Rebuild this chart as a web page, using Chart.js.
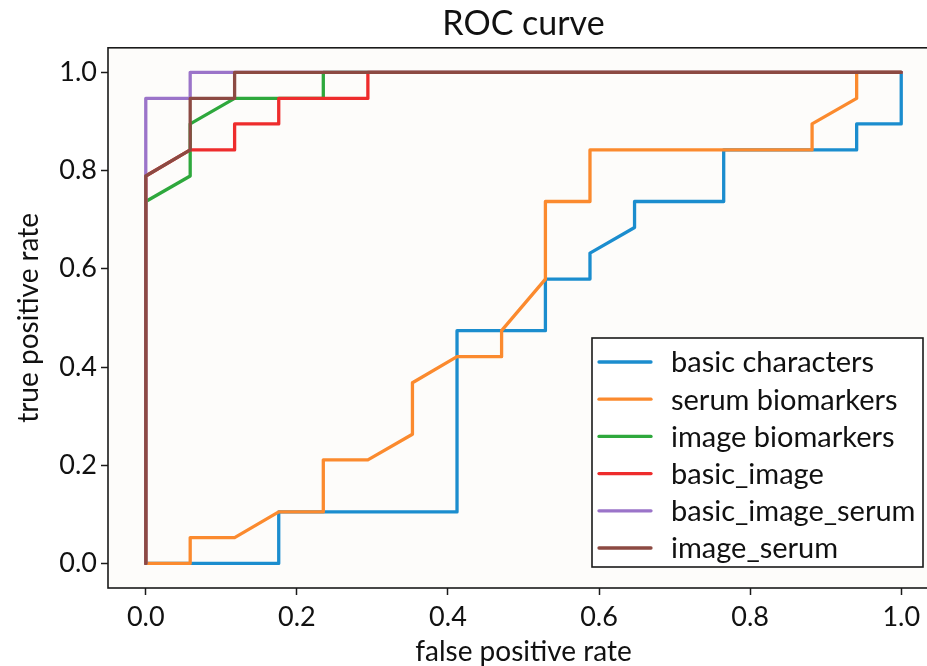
<!DOCTYPE html>
<html>
<head>
<meta charset="utf-8">
<script src="https://cdn.jsdelivr.net/npm/chart.js@4"></script>
<style>
  html, body { margin: 0; padding: 0; background: #ffffff; overflow: hidden; }
  #wrap { width: 927px; height: 666px; overflow: hidden; position: relative; }
  canvas { display: block; }
</style>
</head>
<body>
<div id="wrap"><canvas id="c" width="1047" height="666"></canvas></div>
<script>
// ---- data ----
const seriesNames = ["basic characters", "serum biomarkers", "image biomarkers", "basic_image", "basic_image_serum", "image_serum"];
const seriesColors = ["#1b8dce", "#fb8a2e", "#2ea83c", "#ee2c2c", "#9b74c9", "#8c4a42"];

const basicFpr = [0, 0.176, 0.176, 0.412, 0.412, 0.529, 0.529, 0.588, 0.588, 0.647, 0.647, 0.765, 0.765, 0.941, 0.941, 1.0, 1.0];
const basicTpr = [0, 0, 0.105, 0.105, 0.474, 0.474, 0.579, 0.579, 0.632, 0.684, 0.737, 0.737, 0.842, 0.842, 0.895, 0.895, 1.0];

const serumFpr = [0, 0.0588, 0.0588, 0.1176, 0.176, 0.235, 0.235, 0.294, 0.353, 0.353, 0.412, 0.471, 0.471, 0.529, 0.529, 0.588, 0.588, 0.882, 0.882, 0.941, 0.941, 1.0];
const serumTpr = [0, 0, 0.0526, 0.0526, 0.105, 0.105, 0.211, 0.211, 0.263, 0.368, 0.421, 0.421, 0.474, 0.579, 0.737, 0.737, 0.842, 0.842, 0.895, 0.947, 1.0, 1.0];

const imageFpr = [0, 0, 0.0588, 0.0588, 0.1176, 0.235, 0.235, 1.0];
const imageTpr = [0, 0.737, 0.789, 0.895, 0.947, 0.947, 1.0, 1.0];

const basicImageFpr = [0, 0, 0.0588, 0.1176, 0.1176, 0.176, 0.176, 0.294, 0.294, 1.0];
const basicImageTpr = [0, 0.789, 0.842, 0.842, 0.895, 0.895, 0.947, 0.947, 1.0, 1.0];

const basicImageSerumFpr = [0, 0, 0.0588, 0.0588, 1.0];
const basicImageSerumTpr = [0, 0.947, 0.947, 1.0, 1.0];

const imageSerumFpr = [0, 0, 0.0588, 0.0588, 0.1176, 0.1176, 1.0];
const imageSerumTpr = [0, 0.789, 0.842, 0.947, 0.947, 1.0, 1.0];

const xTickValues = [0, 0.2, 0.4, 0.6, 0.8, 1.0];
const yTickValues = [0, 0.2, 0.4, 0.6, 0.8, 1.0];

const titleText = "ROC curve";
const xLabel = "false positive rate";
const yLabel = "true positive rate";

// ---- build datasets ----
const fprs = [basicFpr, serumFpr, imageFpr, basicImageFpr, basicImageSerumFpr, imageSerumFpr];
const tprs = [basicTpr, serumTpr, imageTpr, basicImageTpr, basicImageSerumTpr, imageSerumTpr];
const datasets = seriesNames.map((name, i) => ({
  label: name,
  data: fprs[i].map((x, k) => ({ x: x, y: tprs[i][k] })),
  borderColor: seriesColors[i],
  backgroundColor: seriesColors[i],
  borderWidth: 3.3,
  pointRadius: 0,
  tension: 0,
  fill: false,
  borderJoinStyle: 'round',
  borderCapStyle: 'round',
  order: seriesNames.length - i
}));

const FONT = "Lato";

const framePlugin = {
  id: 'frame',
  beforeDraw(chart) {
    const { ctx, chartArea: a } = chart;
    ctx.save();
    ctx.fillStyle = '#fdfcfa';
    ctx.fillRect(a.left, a.top, a.right - a.left, a.bottom - a.top);
    ctx.restore();
  },
  afterDatasetsDraw(chart) {
    const { ctx, chartArea: a } = chart;
    ctx.save();
    ctx.strokeStyle = '#1a1a1a';
    ctx.lineWidth = 1.6;
    ctx.strokeRect(a.left, a.top, a.right - a.left, a.bottom - a.top);
    ctx.restore();
  }
};

const legendPlugin = {
  id: 'innerLegend',
  afterDraw(chart) {
    const ctx = chart.ctx;
    const x0 = 592, y0 = 338, w = 331, h = 229;
    ctx.save();
    ctx.fillStyle = '#ffffff';
    ctx.fillRect(x0, y0, w, h);
    ctx.strokeStyle = '#1a1a1a';
    ctx.lineWidth = 1.6;
    ctx.strokeRect(x0, y0, w, h);
    ctx.font = '29px ' + FONT;
    ctx.textBaseline = 'middle';
    ctx.textAlign = 'left';
    const rowStart = 362, rowStep = 37.2;
    chart.data.datasets.forEach((ds, i) => {
      const yy = rowStart + i * rowStep;
      ctx.strokeStyle = ds.borderColor;
      ctx.lineWidth = 3.3;
      ctx.lineCap = 'round';
      ctx.beginPath();
      ctx.moveTo(599, yy);
      ctx.lineTo(651, yy);
      ctx.stroke();
      ctx.fillStyle = '#111111';
      ctx.fillText(ds.label, 671, yy + 1);
    });
    ctx.restore();
  }
};

new Chart(document.getElementById('c'), {
  type: 'line',
  data: { datasets: datasets },
  options: {
    responsive: false,
    animation: false,
    devicePixelRatio: 1,
    layout: { padding: { top: 0, left: 0, right: 0, bottom: 0 } },
    plugins: {
      legend: { display: false },
      tooltip: { enabled: false },
      title: {
        display: true,
        text: titleText,
        color: '#111111',
        font: { family: FONT, size: 34, weight: 'normal', lineHeight: 1.2 },
        padding: { top: 4, bottom: 3 }
      }
    },
    scales: {
      x: {
        type: 'linear',
        min: -0.05,
        max: 1.05,
        afterFit(scale) { scale.height = 78; },
        afterBuildTicks(scale) { scale.ticks = xTickValues.map(v => ({ value: v })); },
        grid: { display: true, drawOnChartArea: false, drawTicks: true, tickLength: 7, tickWidth: 1.5, tickColor: '#1a1a1a' },
        border: { display: false },
        ticks: {
          color: '#111111',
          padding: 6,
          maxRotation: 0,
          font: { family: FONT, size: 27 },
          callback: v => Number(v).toFixed(1)
        },
        title: {
          display: true,
          text: xLabel,
          color: '#111111',
          font: { family: FONT, size: 28, lineHeight: 1.0 },
          padding: { top: 0, bottom: 0 }
        }
      },
      y: {
        type: 'linear',
        position: 'left',
        min: -0.05,
        max: 1.05,
        afterFit(scale) { scale.width = 108; },
        afterBuildTicks(scale) { scale.ticks = yTickValues.map(v => ({ value: v })); },
        grid: { display: true, drawOnChartArea: false, drawTicks: true, tickLength: 7, tickWidth: 1.5, tickColor: '#1a1a1a' },
        border: { display: false },
        ticks: {
          color: '#111111',
          padding: 4,
          font: { family: FONT, size: 27 },
          callback: v => Number(v).toFixed(1)
        },
        title: {
          display: true,
          text: yLabel,
          color: '#111111',
          font: { family: FONT, size: 28, lineHeight: 1.0 },
          padding: { top: 15, bottom: 0 }
        }
      },
      yRight: {
        type: 'linear',
        position: 'right',
        display: true,
        min: -0.05,
        max: 1.05,
        afterFit(scale) { scale.width = 108; },
        grid: { display: false, drawTicks: false },
        border: { display: false },
        ticks: { display: false },
        title: { display: false }
      }
    }
  },
  plugins: [framePlugin, legendPlugin]
});
</script>
</body>
</html>
